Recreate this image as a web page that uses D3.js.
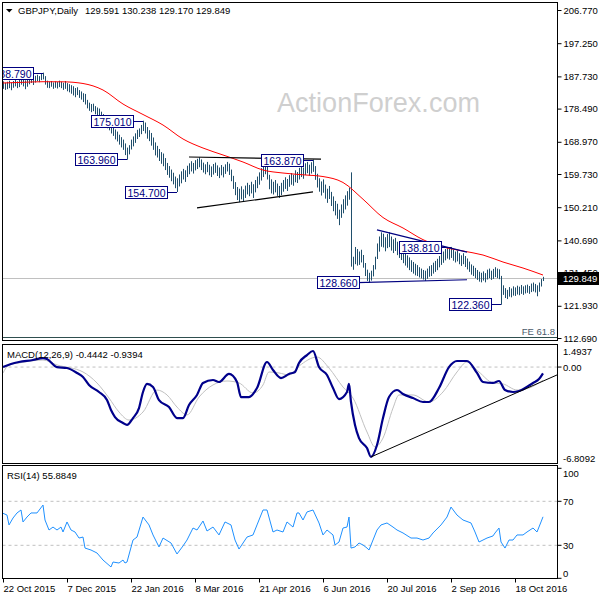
<!DOCTYPE html>
<html><head><meta charset="utf-8">
<script src="https://cdn.jsdelivr.net/npm/d3@7"></script>
<style>body{margin:0;background:#fff}svg{display:block}text{font-family:"Liberation Sans",Arial,sans-serif}</style>
</head><body><svg id="c" width="600" height="600"></svg>
<script>
// ---------------- data ----------------
const symbol = "GBPJPY,Daily";
const lastOHLC = [129.591, 130.238, 129.170, 129.849];
const hi = [
186.3,185.9,186.2,186.5,186.0,186.4,186.9,186.3,186.8,187.3,
187.0,186.6,186.9,187.4,187.8,187.3,187.9,188.2,187.8,188.4,
188.79,187.8,186.5,186.2,186.4,186.0,186.3,186.1,186.5,186.2,
185.9,186.4,185.8,185.5,185.2,184.9,184.4,184.6,183.8,183.4,
182.9,182.7,181.0,180.2,179.8,179.9,179.2,178.8,178.5,177.6,
176.9,176.3,175.5,174.6,174.0,173.5,172.5,171.9,171.0,170.3,
169.6,168.5,167.3,168.0,169.6,170.5,171.4,172.4,172.8,173.8,
175.01,174.5,173.2,172.3,171.5,170.2,168.8,167.8,166.9,166.0,
165.6,164.3,162.9,162.0,161.0,160.1,159.0,158.5,159.6,160.5,
161.2,160.8,162.1,162.8,163.4,162.9,163.7,164.1,164.5,163.9,
163.0,162.5,163.2,162.4,161.9,162.6,163.0,162.2,161.6,162.3,
161.8,162.5,163.2,162.7,161.0,159.2,157.4,156.0,155.5,156.2,
155.3,156.4,157.2,156.6,157.5,156.8,158.0,159.0,160.2,161.4,
162.6,163.7,162.0,159.5,158.2,157.5,158.0,157.0,156.3,157.2,
158.0,158.8,158.3,159.4,160.0,159.5,160.8,160.3,161.5,162.2,
161.6,162.8,163.2,162.4,163.1,163.87,162.0,159.8,158.5,157.6,
158.2,156.7,155.5,156.3,154.6,153.3,152.0,151.2,149.5,151.0,
152.5,153.6,154.8,155.8,160.2,136.0,138.8,138.2,137.5,138.0,
136.5,134.2,132.3,131.4,132.0,133.6,136.0,139.8,141.8,143.0,
142.6,141.6,142.5,143.0,141.8,141.0,141.4,140.3,139.5,139.0,
138.0,137.2,136.4,135.8,135.0,134.5,134.0,133.6,133.0,132.6,
132.2,132.0,132.6,133.3,133.6,134.3,134.8,135.4,136.2,137.0,
137.5,138.2,138.5,138.3,138.81,138.0,137.5,137.8,137.0,136.4,
137.0,136.2,135.5,134.6,133.8,133.4,132.8,132.2,131.7,131.4,
131.8,131.3,132.3,132.6,132.0,132.5,133.0,132.6,132.4,130.5,
127.8,127.0,126.5,127.3,126.9,127.5,127.2,127.7,127.4,127.9,
127.5,127.8,128.0,127.6,128.3,128.6,128.2,127.8,128.6,129.6,130.238];
const lo = [
184.3,184.0,184.2,184.5,183.9,184.6,185.0,184.5,184.8,185.5,
185.0,184.2,184.9,185.6,186.0,185.4,186.1,186.5,186.2,186.8,
187.0,185.5,184.6,184.5,184.9,184.3,184.6,184.4,184.8,184.5,
184.0,184.3,183.6,183.3,182.9,182.4,181.9,182.5,181.7,181.2,
180.5,179.8,178.7,178.0,177.6,177.9,177.0,176.6,176.1,175.2,
174.0,173.8,173.0,172.4,171.5,170.8,169.8,169.2,168.3,167.5,
166.8,165.3,163.96,165.5,166.9,167.8,168.8,169.9,170.5,171.3,
172.2,171.5,170.0,169.3,168.0,166.8,165.2,164.6,163.6,162.8,
162.1,161.0,159.6,158.8,157.8,156.9,155.8,154.7,156.3,157.2,
158.3,157.6,159.0,159.8,160.6,160.0,160.9,161.3,161.8,161.0,
160.3,159.8,160.4,159.5,159.0,159.7,160.2,159.3,158.7,159.5,
158.9,159.9,160.6,159.6,157.8,155.6,153.8,152.4,151.8,152.6,
152.0,153.0,154.0,153.5,154.3,153.0,154.6,155.8,156.8,158.0,
159.0,159.8,158.3,155.5,154.3,154.0,154.6,153.6,153.0,153.8,
154.8,155.6,155.0,156.2,156.8,156.5,157.5,157.3,158.3,159.0,
158.5,159.6,160.1,159.4,160.0,160.5,158.2,156.0,154.8,153.7,
154.5,152.8,151.6,152.7,150.7,149.2,148.0,147.0,145.2,147.3,
148.6,149.7,150.8,152.5,133.3,132.4,134.0,133.6,133.8,134.5,
133.0,130.6,129.2,128.66,129.3,130.5,132.5,135.5,137.6,139.0,
138.8,137.7,138.6,138.9,137.9,137.2,137.8,136.6,135.8,135.2,
134.3,133.6,133.0,132.3,131.8,131.3,130.8,130.6,130.2,129.9,
129.6,129.2,129.8,130.4,130.6,131.3,131.8,132.3,133.1,133.8,
134.4,135.1,135.6,135.3,135.8,135.0,134.5,134.8,134.0,133.5,
134.0,133.2,132.5,131.8,131.0,130.6,130.0,129.5,129.0,128.8,
129.3,128.8,129.6,130.0,129.5,129.8,130.3,130.0,129.7,122.36,
125.2,124.3,124.0,124.7,124.5,125.0,124.9,125.3,125.1,125.5,
125.2,125.6,125.8,125.5,126.0,126.2,125.9,124.8,126.1,127.6,129.17];
// moving average sampled every 10 bars
const maStep = 10;
const maVal = [185.83,186.03,186.2,186.17,185.69,183.82,179.8,176.8,173.78,169.77,167.18,165.18,163.17,160.87,160.01,159.5,159.0,157.3,152.5,147.25,144.24,140.9,138.8,137.64,136.49,134.48,132.76,130.75];
// MACD (bar index / value)
const macdIdx = [0,4,8,15,20,22,27,32,37,40,43,48,52,54,56,60,62,65,68,70,72,75,78,83,87,90,93,97,100,105,108,113,117,119,123,127,132,135,139,143,146,148,152,155,158,162,165,168,172,173,174,176,178,182,184,187,190,193,197,200,205,210,213,218,223,227,232,237,240,245,248,251,255,258,265,268,270];
const macdVal = [0.00,0.22,0.36,0.50,0.64,0.57,0.00,-0.07,-0.42,-0.71,-1.27,-1.77,-2.34,-3.05,-3.55,-3.97,-4.11,-3.62,-2.91,-1.77,-1.20,-1.42,-2.34,-2.84,-3.62,-3.62,-2.69,-1.98,-1.13,-0.92,-1.06,-0.49,-1.06,-2.13,-2.13,-1.49,0.36,-0.21,-0.78,-0.49,-0.35,0.29,0.85,1.14,0.00,-0.56,-1.49,-2.27,-1.77,-1.20,-2.48,-4.11,-5.04,-5.75,-6.38,-5.53,-3.62,-2.13,-1.63,-1.91,-2.20,-2.48,-2.48,-1.49,0.00,0.43,0.43,-0.42,-1.06,-1.13,-0.99,-1.63,-1.77,-1.70,-1.13,-0.85,-0.4442];
const sigIdx = [0,3,8,20,27,40,47,53,58,63,70,77,82,87,92,98,105,112,118,125,130,133,138,143,148,157,163,170,175,182,186,190,195,198,205,213,220,227,232,238,245,250,257,263,270];
const sigVal = [-0.42,0.15,0.29,0.50,0.15,-0.35,-1.13,-2.20,-3.19,-3.76,-3.19,-1.63,-1.98,-2.84,-3.40,-2.13,-1.27,-0.99,-1.13,-1.84,-1.27,-0.35,-0.42,-0.56,0.07,0.71,-0.07,-1.42,-2.20,-4.61,-5.67,-5.04,-2.91,-1.98,-1.98,-2.48,-1.77,-0.35,0.36,-0.35,-1.13,-1.20,-1.63,-1.49,-0.9394];
// RSI(14)
const rsiIdx = [0,2,3,5,7,9,10,12,14,17,20,21,23,25,27,29,30,32,34,36,38,40,41,44,47,50,54,55,58,60,61,62,65,67,70,73,75,78,80,84,87,90,92,95,97,100,102,105,108,111,114,116,118,122,125,127,130,132,135,137,140,142,145,147,148,150,152,155,158,160,162,165,166,168,170,172,173,174,176,178,180,182,183,185,187,189,192,195,197,200,204,207,210,213,215,219,222,224,227,230,234,236,238,240,242,245,246,248,249,251,253,255,257,260,262,265,267,269,270];
const rsiVal = [59.1,57.5,48.5,54.8,59.4,62.1,51.2,55.7,59.4,59.4,66.6,53.0,43.9,46.6,43.9,46.6,42.1,51.2,43.9,42.1,36.6,37.5,27.5,25.7,23.0,16.6,10.3,14.8,13.9,16.6,13.9,14.8,34.8,37.5,55.7,48.5,39.4,28.5,36.6,32.1,22.1,29.4,34.8,45.7,43.9,52.1,43.0,46.6,39.4,51.2,48.5,34.8,26.6,37.5,39.4,48.5,62.1,62.1,42.1,43.9,42.1,51.2,46.6,59.4,59.4,53.0,60.3,62.1,50.3,39.4,43.9,39.4,30.3,33.0,45.7,46.6,55.7,27.5,28.5,32.1,30.3,27.5,25.7,34.8,43.9,48.5,50.3,46.6,43.9,41.2,36.6,36.6,34.8,36.6,41.2,48.5,55.7,64.8,57.5,53.0,50.3,42.1,33.0,34.8,36.6,38.5,41.2,45.7,33.0,27.5,34.8,34.8,39.4,39.4,42.1,45.7,42.1,51.2,55.8849];
const macdLast = [-0.4442, -0.9394];
const rsiLast = 55.8849;
// axes
const priceTicks = [206.770,197.250,187.730,178.490,168.970,159.730,150.210,140.690,131.450,121.930,112.690];
const macdTicks = [1.4937, 0, -6.8092];
const rsiTicks = [100, 70, 30, 0];
const rsiLevels = [70, 30];
const tickIdx = [0,32,64,96,128,160,192,224,256];
const tickLabels = ["22 Oct 2015","7 Dec 2015","22 Jan 2016","8 Mar 2016","21 Apr 2016","6 Jun 2016","20 Jul 2016","2 Sep 2016","18 Oct 2016"];
// annotations
const swingIdx = [20,70,62,87,155,224,183,249];
const swingVal = [188.790,175.010,163.960,154.700,163.870,138.810,128.660,122.360];
const blackLines = [[[93,164.6],[159,164.0]],[[97,150.0],[155,154.6]]];
const navyLines = [[[187,143.7],[232,137.3]],[[177,128.6],[232,129.4]]];
const macdTrend = [[184,-6.38],[277,-0.56]];
const feLevel = 112.95, feLabel = "FE 61.8";

// ---------------- layout ----------------
const svg = d3.select("#c");
const L = 2.5, R = 557.5;
const P = {top:2.5, bot:340.5}, M = {top:344.5, bot:463.5}, Q = {top:465.5, bot:578.5};
const x = d3.scaleLinear().domain([0,270]).range([3,543]);
const y = d3.scaleLinear().domain([112.69,206.77]).range([338,10]);
const ym = d3.scaleLinear().domain([-6.8092,1.4937]).range([463,346]);
const yr = d3.scaleLinear().domain([0,100]).range([578.3,468.3]);
const navy = "#000080", barCol = "#204f6c", txt = "#000";

const defs = svg.append("defs");
[["cp",P],["cm",M],["cr",Q]].forEach(([id,p])=>{
  defs.append("clipPath").attr("id",id).append("rect").attr("x",L).attr("y",p.top).attr("width",R-L).attr("height",p.bot-p.top);
});

// watermark
svg.append("text").attr("x",277).attr("y",112).attr("font-size",28).attr("fill","#cfcfcf")
  .attr("textLength",203).attr("lengthAdjust","spacingAndGlyphs").text("ActionForex.com");

// ---- price panel ----
const gp = svg.append("g").attr("clip-path","url(#cp)");
gp.append("line").attr("x1",L).attr("x2",R).attr("y1",Math.round(y(lastOHLC[3]))+0.5).attr("y2",Math.round(y(lastOHLC[3]))+0.5)
  .attr("stroke","#c0c0c0");
gp.append("line").attr("x1",L).attr("x2",R).attr("y1",Math.round(y(feLevel))+0.5).attr("y2",Math.round(y(feLevel))+0.5)
  .attr("stroke","#2f4f4f");
gp.append("text").attr("x",555).attr("y",Math.round(y(feLevel))-2).attr("text-anchor","end").attr("font-size",9.5)
  .attr("fill","#4a5a6a").text(feLabel);
gp.selectAll("line.bar").data(hi).join("line").attr("class","bar")
  .attr("x1",(d,i)=>Math.round(x(i))+0.5).attr("x2",(d,i)=>Math.round(x(i))+0.5)
  .attr("y1",d=>y(d)).attr("y2",(d,i)=>y(lo[i])+0.5).attr("stroke",barCol).attr("stroke-width",1);
gp.append("path").datum(maVal).attr("fill","none").attr("stroke","#ff0000").attr("stroke-width",1)
  .attr("d",d3.line().x((d,i)=>x(i*maStep)).y(d=>y(d)).curve(d3.curveMonotoneX));
const tl = (g, arr, col, ys) => arr.forEach(seg=>{
  g.append("line").attr("x1",x(seg[0][0])).attr("y1",ys(seg[0][1])).attr("x2",x(seg[1][0])).attr("y2",ys(seg[1][1]))
    .attr("stroke",col).attr("stroke-width",1.2);
});
tl(gp, blackLines, "#000", y);
tl(gp, navyLines, navy, y);
swingIdx.forEach((bi,k)=>{
  const ax = x(bi), ay = Math.round(y(swingVal[k]))+0.5;
  const bx = Math.round(ax-10)-42+0.5;
  gp.append("line").attr("x1",bx+42).attr("x2",ax).attr("y1",ay).attr("y2",ay).attr("stroke",navy);
  gp.append("rect").attr("x",bx).attr("y",ay-6).attr("width",42).attr("height",12).attr("fill","#fff").attr("stroke",navy);
  gp.append("text").attr("x",bx+21).attr("y",ay+4).attr("text-anchor","middle").attr("font-size",10.5).attr("fill",navy)
    .text(swingVal[k].toFixed(3));
});

// ---- MACD panel ----
const gm = svg.append("g").attr("clip-path","url(#cm)");
gm.append("line").attr("x1",L).attr("x2",R).attr("y1",ym(0)).attr("y2",ym(0)).attr("stroke","#c0c0c0").attr("stroke-dasharray","3,3");
gm.append("path").datum(sigIdx).attr("fill","none").attr("stroke","#c0c0c0").attr("stroke-width",1)
  .attr("d",d3.line().x(d=>x(d)).y((d,i)=>ym(sigVal[i])).curve(d3.curveMonotoneX));
gm.append("path").datum(macdIdx).attr("fill","none").attr("stroke","#00008b").attr("stroke-width",2.2)
  .attr("stroke-linejoin","round").attr("d",d3.line().x(d=>x(d)).y((d,i)=>ym(macdVal[i])).curve(d3.curveMonotoneX));
gm.append("line").attr("x1",x(macdTrend[0][0])).attr("y1",ym(macdTrend[0][1])).attr("x2",x(macdTrend[1][0])).attr("y2",ym(macdTrend[1][1]))
  .attr("stroke","#000").attr("stroke-width",1);

// ---- RSI panel ----
const gr = svg.append("g").attr("clip-path","url(#cr)");
rsiLevels.forEach(v=>gr.append("line").attr("x1",L).attr("x2",R).attr("y1",yr(v)).attr("y2",yr(v))
  .attr("stroke","#c0c0c0").attr("stroke-dasharray","3,3"));
gr.append("path").datum(rsiIdx).attr("fill","none").attr("stroke","#1e90ff").attr("stroke-width",1)
  .attr("d",d3.line().x(d=>x(d)).y((d,i)=>yr(rsiVal[i])));

// ---- panel borders ----
[P,M,Q].forEach(p=>svg.append("rect").attr("x",L).attr("y",p.top).attr("width",R-L).attr("height",p.bot-p.top)
  .attr("fill","none").attr("stroke","#000"));

// ---- titles ----
svg.append("path").attr("d","M6,9 L12.5,9 L9.25,12.5 Z").attr("fill","#000");
svg.append("text").attr("x",18).attr("y",14).attr("font-size",9.5).attr("fill",txt).text(symbol);
svg.append("text").attr("x",85).attr("y",14).attr("font-size",9.5).attr("fill",txt).text(lastOHLC.map(d=>d.toFixed(3)).join(" "));
svg.append("text").attr("x",7).attr("y",357.5).attr("font-size",9.5).attr("fill",txt)
  .text("MACD(12,26,9) "+macdLast.map(d=>d.toFixed(4)).join(" "));
svg.append("text").attr("x",7).attr("y",479).attr("font-size",9.5).attr("fill",txt).text("RSI(14) "+rsiLast.toFixed(4));

// ---- right axes ----
const ax = svg.append("g").attr("transform",`translate(${R},0)`)
  .call(d3.axisRight(y).tickValues(priceTicks).tickFormat(d3.format(".3f")).tickSize(4).tickPadding(2));
ax.select(".domain").remove();
ax.selectAll("text").attr("font-size",9.5).attr("font-family","Liberation Sans, Arial, sans-serif").attr("fill",txt);
ax.selectAll("line").attr("stroke","#000");
const cy = Math.round(y(lastOHLC[3]))+0.5;
svg.append("rect").attr("x",R+0.5).attr("y",cy-6.5).attr("width",41).attr("height",13).attr("fill","#000");
svg.append("text").attr("x",R+5.5).attr("y",cy+3.5).attr("font-size",9.5).attr("fill","#fff").text(lastOHLC[3].toFixed(3));
const mOff = [5,0,-5];
macdTicks.forEach((v,k)=>{
  svg.append("text").attr("x",R+5.5).attr("y",ym(v)+mOff[k]+3.5).attr("font-size",9.5).attr("fill",txt)
    .text(v===0?"0.00":v.toFixed(4));
});
svg.append("line").attr("x1",R).attr("x2",R+4).attr("y1",ym(0)).attr("y2",ym(0)).attr("stroke","#000");
const rOff = {100:5,70:0,30:0,0:-5};
rsiTicks.forEach(v=>{
  svg.append("text").attr("x",R+5.5).attr("y",yr(v)+rOff[v]+3.5).attr("font-size",9.5).attr("fill",txt).text(v);
  svg.append("line").attr("x1",R).attr("x2",R+4).attr("y1",yr(v)).attr("y2",yr(v)).attr("stroke","#000");
});

// ---- x axis ----
const xa = svg.append("g").attr("transform",`translate(0,${Q.bot})`)
  .call(d3.axisBottom(x).tickValues(tickIdx).tickFormat((d,i)=>tickLabels[i]).tickSize(4).tickPadding(3));
xa.select(".domain").remove();
xa.selectAll("text").attr("text-anchor","start").attr("font-size",9.5).attr("font-family","Liberation Sans, Arial, sans-serif").attr("fill",txt);
xa.selectAll("line").attr("stroke","#000");
</script></body></html>
